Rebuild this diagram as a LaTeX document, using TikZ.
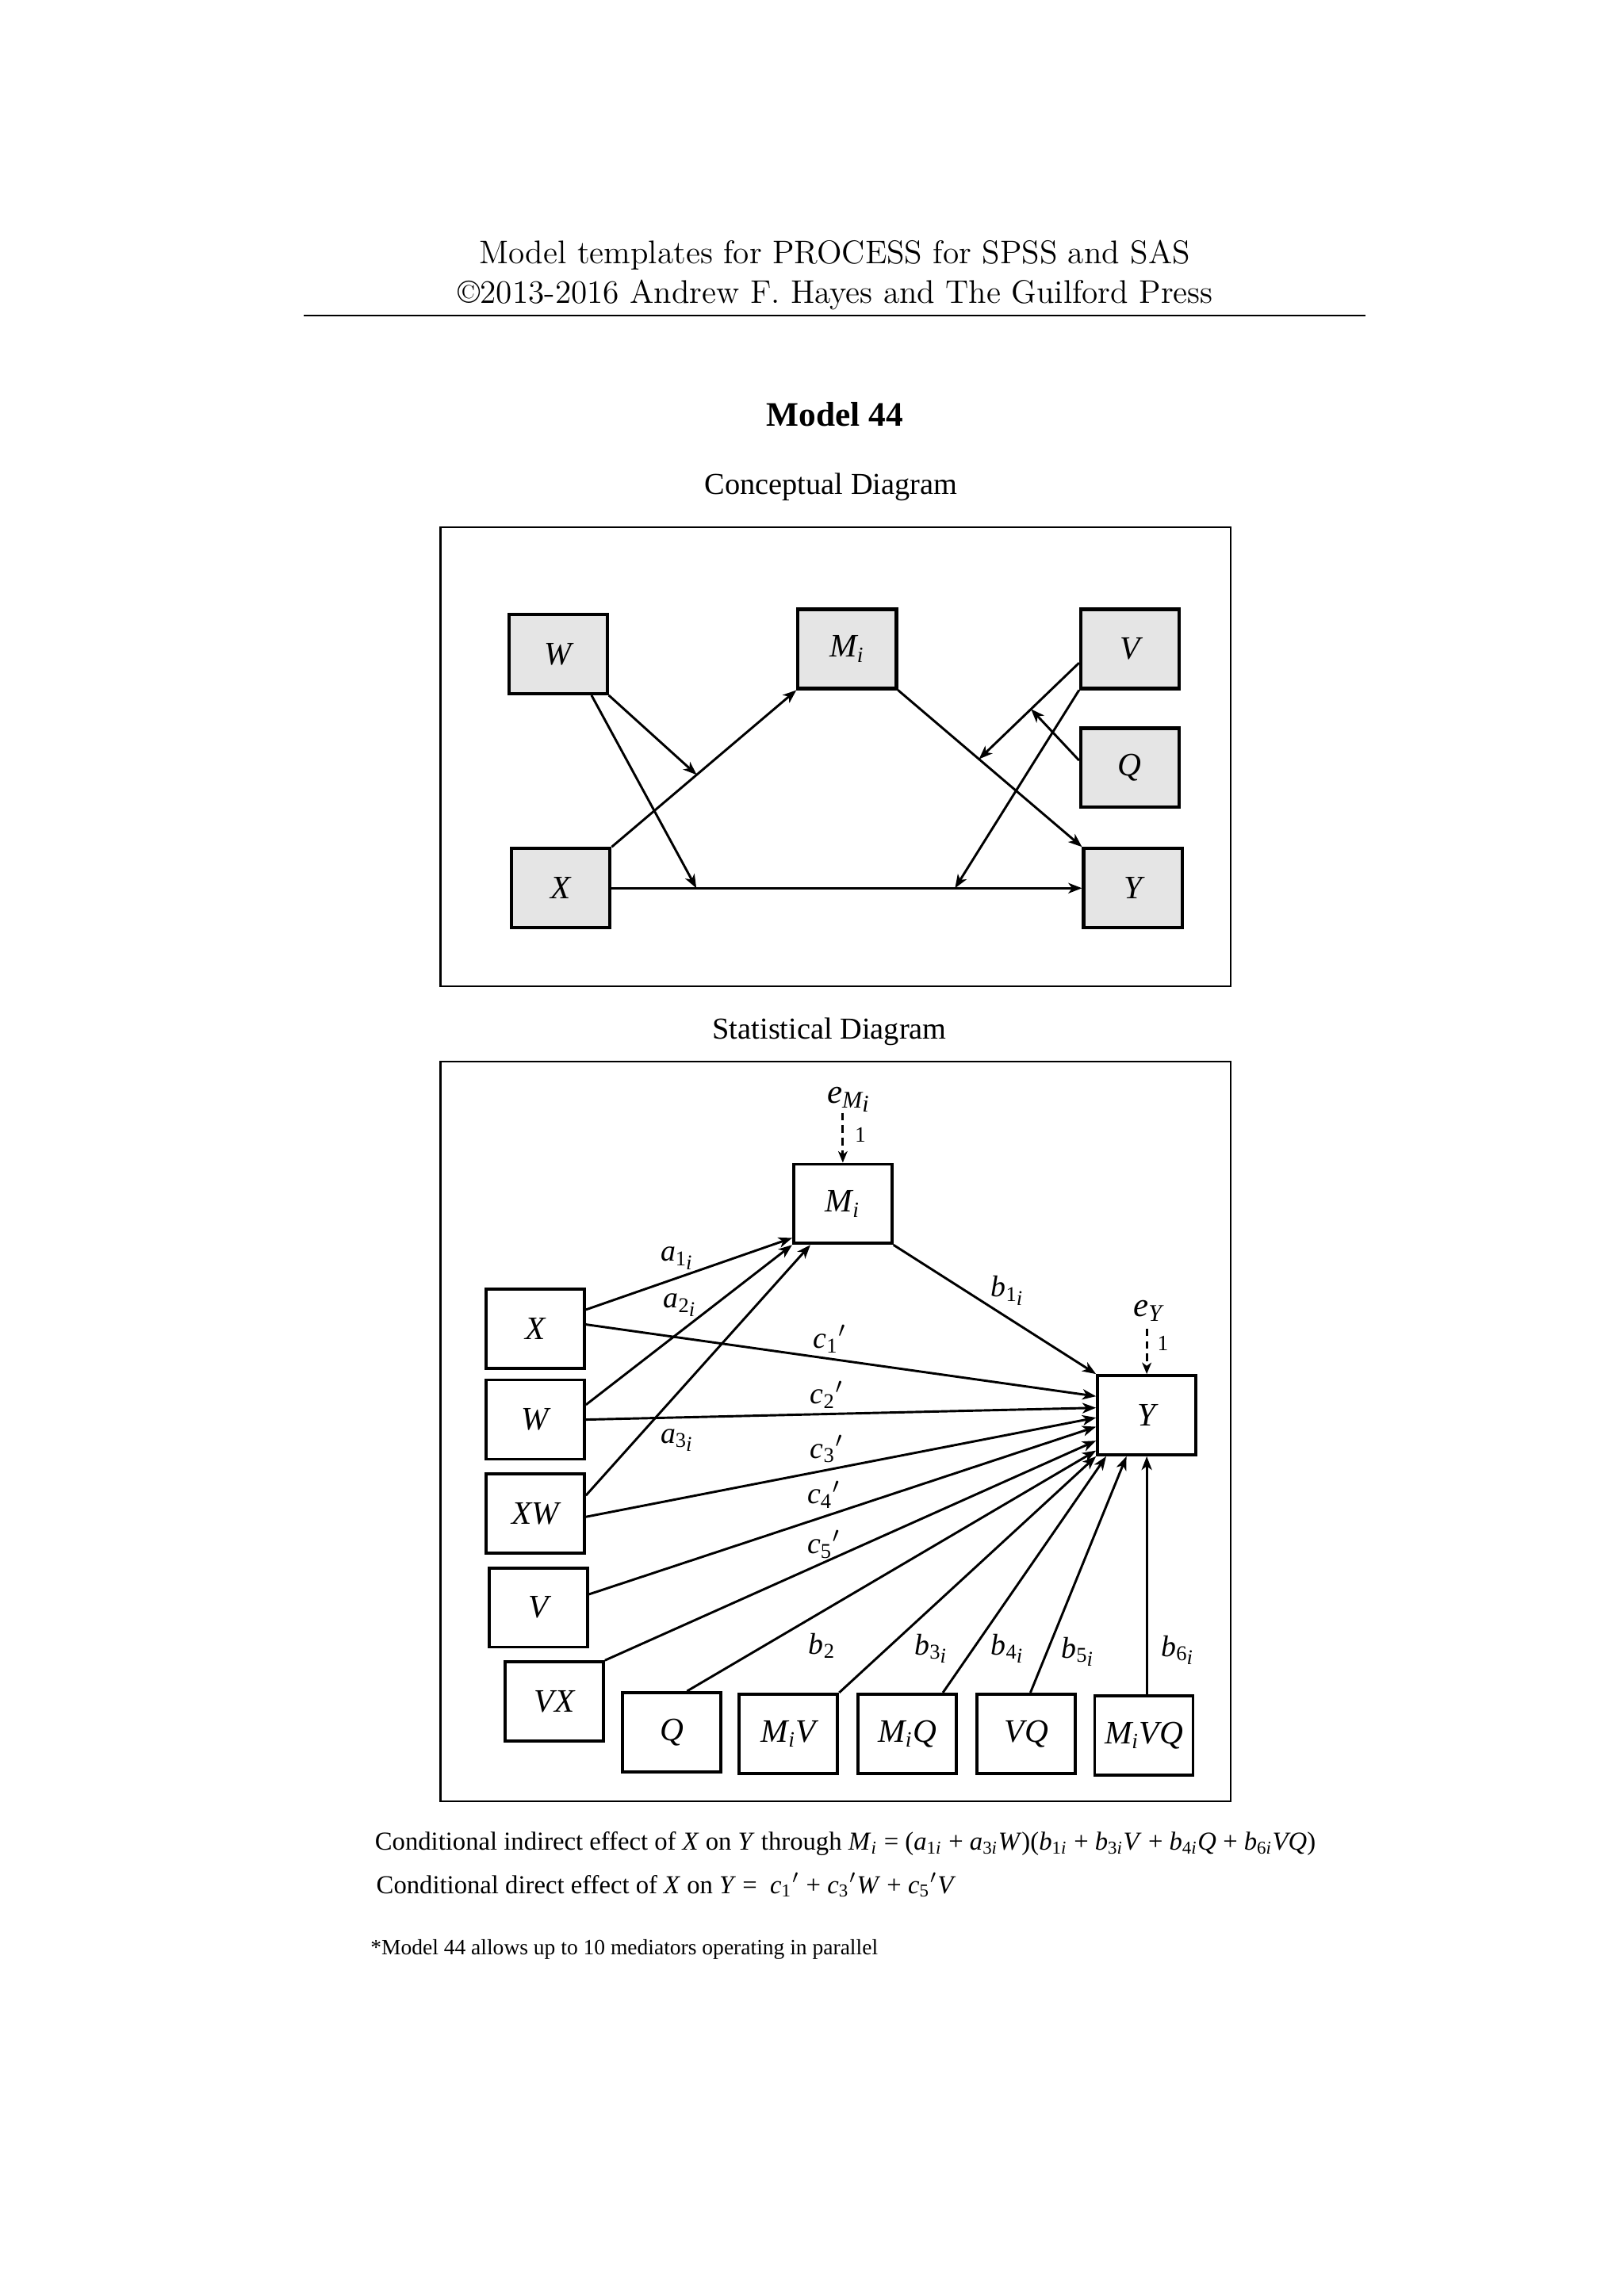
\documentclass[tikz,border=0pt]{standalone}
\usepackage{amsmath}
\usepackage{fontspec}
\newfontfamily\tnr{Liberation Serif}
\usetikzlibrary{arrows.meta,calc}
\newcommand{\V}[1]{\textit{#1}}
\newcommand{\sbs}[1]{\textsubscript{#1}}
\newcommand{\lowi}{\raisebox{-0.4ex}{\itshape i}}
\begin{document}
\begin{tikzpicture}[x=0.53823pt,y=-0.53823pt,
  arr/.style={-{Stealth[length=5pt,width=3.8pt,inset=1.4pt]},line width=0.85pt},
  darr/.style={-{Stealth[length=4.2pt,width=3.4pt,inset=1.2pt]},line width=0.8pt,dash pattern=on 2.8pt off 1.8pt},
  cbox/.style={draw,line width=1.2pt,fill=black!10,minimum width=36.06pt,minimum height=29.06pt,inner sep=0pt,font=\tnr\itshape\fontsize{12}{14}\selectfont},
  sbox/.style={draw,line width=1.1pt,fill=white,minimum width=36.06pt,minimum height=29.06pt,inner sep=0pt,font=\tnr\itshape\fontsize{12}{14}\selectfont},
  lab/.style={inner sep=0pt,font=\tnr\itshape\fontsize{11}{13}\selectfont},
  frame/.style={draw,line width=0.6pt}]
\useasboundingbox (0,0) rectangle (1106,1564);
\fill[white] (0,0) rectangle (1106,1564);
% header
\node[font=\fontsize{12}{14}\selectfont] (h1) at (568.5,174) {Model templates for PROCESS for SPSS and SAS};
\node[font=\fontsize{12}{14}\selectfont] (h2) at (569,201) {\textcopyright2013-2016 Andrew F. Hayes and The Guilford Press};
\coordinate (rl) at (207,215);
\coordinate (rr) at (930,215);
\draw[line width=0.5pt] (rl) -- (rr);
\node[font=\tnr\bfseries\fontsize{12.6}{15}\selectfont] (title) at (568.5,282) {Model 44};
\node[font=\tnr\fontsize{11.15}{13}\selectfont] (ct) at (566,332) {Conceptual Diagram};
\node[font=\tnr\fontsize{11.15}{13}\selectfont] (st) at (565,703) {Statistical Diagram};
% conceptual frame
\node[frame,minimum width=289.57pt,minimum height=168.47pt,inner sep=0pt] (cframe) at (569,515.5) {};
\node[cbox] (cW) at (380,445.5) {W};
\node[cbox] (cMi) at (577,442) {M\sbs{i}};
\node[cbox] (cV) at (769.5,442) {V};
\node[cbox] (cQ) at (769.5,523) {Q};
\node[cbox] (cX) at (382,605) {X};
\node[cbox] (cY) at (771.5,605) {Y};
\draw[arr] (cX.north east) -- (cMi.south west);
\draw[arr] (cX.east) -- (cY.west);
\draw[arr] (cMi.south east) -- (cY.north west);
\coordinate (pXM) at ($(cX.north east)!0.46!(cMi.south west)$);
\coordinate (pXYw) at ($(cX.east)!0.18!(cY.west)$);
\coordinate (pXYv) at ($(cX.east)!0.73!(cY.west)$);
\coordinate (pMY) at ($(cMi.south east)!0.44!(cY.north west)$);
\coordinate (wS) at ($(cW.south west)!0.83!(cW.south east)$);
\coordinate (vW) at ($(cV.north west)!0.67!(cV.south west)$);
\coordinate (qW) at ($(cQ.north west)!0.41!(cQ.south west)$);
\coordinate (pVM) at ($(vW)!0.48!(pMY)$);
\draw[arr] (cW.south east) -- (pXM);
\draw[arr] (wS) -- (pXYw);
\draw[arr] (vW) -- (pMY);
\draw[arr] (qW) -- (pVM);
\draw[arr] (cV.south west) -- (pXYv);
% statistical frame
\node[frame,minimum width=289.57pt,minimum height=271.27pt,inner sep=0pt] (sframe) at (569,975) {};
\node[sbox] (sMi) at (574,820) {M\sbs{i}};
\node[sbox] (sX) at (364.5,905) {X};
\node[sbox] (sW) at (364.5,967) {W};
\node[sbox] (sXW) at (364.5,1031) {XW};
\node[sbox] (sV) at (366.5,1095) {V};
\node[sbox] (sVX) at (377.5,1159) {VX};
\node[sbox] (sQ) at (457.5,1180) {Q};
\node[sbox] (sMiV) at (537,1181) {M\sbs{i}V};
\node[sbox] (sMiQ) at (618,1181) {M\sbs{i}Q};
\node[sbox] (sVQ) at (699,1181) {VQ};
\node[sbox] (sMiVQ) at (779,1182) {M\sbs{i}VQ};
\node[sbox] (sY) at (781,964) {Y};
% error terms
\node[lab,font=\tnr\itshape\fontsize{12.5}{14}\selectfont] (eM) at (578,749) {e\sbs{M\lowi}};
\coordinate (eMs) at ($(sMi.north)+(0,-34)$);
\draw[darr] (eMs) -- (sMi.north);
\node[lab,font=\tnr\fontsize{8}{9}\selectfont] (oneM) at (586,773) {1};
\node[lab,font=\tnr\itshape\fontsize{12.5}{14}\selectfont] (eYl) at (782,893) {e\sbs{Y}};
\coordinate (eYs) at ($(sY.north)+(0,-31)$);
\draw[darr] (eYs) -- (sY.north);
\node[lab,font=\tnr\fontsize{8}{9}\selectfont] (oneY) at (792,915) {1};
% paths to M
\draw[arr] ($(sX.north east)!0.27!(sX.south east)$) -- ($(sMi.north west)!0.915!(sMi.south west)$);
\draw[arr] ($(sW.north east)!0.32!(sW.south east)$) -- (sMi.south west);
\draw[arr] ($(sXW.north east)!0.28!(sXW.south east)$) -- ($(sMi.south west)!0.18!(sMi.south east)$);
% paths to Y
\draw[arr] (sMi.south east) -- (sY.north west);
\draw[arr] ($(sX.north east)!0.45!(sX.south east)$) -- ($(sY.north west)!0.27!(sY.south west)$);
\draw[arr] (sW.east) -- ($(sY.north west)!0.41!(sY.south west)$);
\draw[arr] ($(sXW.north east)!0.54!(sXW.south east)$) -- ($(sY.north west)!0.53!(sY.south west)$);
\draw[arr] ($(sV.north east)!0.34!(sV.south east)$) -- ($(sY.north west)!0.64!(sY.south west)$);
\draw[arr] (sVX.north east) -- ($(sY.north west)!0.81!(sY.south west)$);
\draw[arr] ($(sQ.north west)!0.65!(sQ.north east)$) -- ($(sY.north west)!0.93!(sY.south west)$);
\draw[arr] (sMiV.north east) -- (sY.south west);
\draw[arr] ($(sMiQ.north west)!0.85!(sMiQ.north east)$) -- ($(sY.south west)!0.10!(sY.south east)$);
\draw[arr] ($(sVQ.north west)!0.54!(sVQ.north east)$) -- ($(sY.south west)!0.30!(sY.south east)$);
\draw[arr] (sMiVQ.north -| sY.south) -- (sY.south);
% labels
\node[lab] (la1) at (461,857) {a\sbs{\textup{1}\lowi}};
\node[lab] (la2) at (463,889) {a\sbs{\textup{2}\lowi}};
\node[lab] (la3) at (461,981) {a\sbs{\textup{3}\lowi}};
\node[lab] (lb1) at (686,879) {b\sbs{\textup{1}\lowi}};
\node[lab] (lc1) at (565,912) {c\sbs{\textup{1}}$'$};
\node[lab] (lc2) at (563,950) {c\sbs{\textup{2}}$'$};
\node[lab] (lc3) at (563,987) {c\sbs{\textup{3}}$'$};
\node[lab] (lc4) at (561,1018) {c\sbs{\textup{4}}$'$};
\node[lab] (lc5) at (561,1052) {c\sbs{\textup{5}}$'$};
\node[lab] (lb2) at (560,1121) {b\sbs{\textup{2}}};
\node[lab] (lb3) at (634,1123) {b\sbs{\textup{3}\lowi}};
\node[lab] (lb4) at (686,1123) {b\sbs{\textup{4}\lowi}};
\node[lab] (lb5) at (734,1125) {b\sbs{\textup{5}\lowi}};
\node[lab] (lb6) at (802,1124) {b\sbs{\textup{6}\lowi}};
% bottom text
\node[anchor=west,inner sep=0pt,font=\tnr\fontsize{9.5}{11}\selectfont] (f1) at (255,1256) {Conditional indirect effect of \V{X} on \V{Y} through \V{M}\sbs{\V{i}} = (\V{a}\sbs{1\V{i}} + \V{a}\sbs{3\V{i}}\V{W})(\V{b}\sbs{1\V{i}} + \V{b}\sbs{3\V{i}}\V{V} + \V{b}\sbs{4\V{i}}\V{Q} + \V{b}\sbs{6\V{i}}\V{VQ})};
\node[anchor=west,inner sep=0pt,font=\tnr\fontsize{9.5}{11}\selectfont] (f2) at (256,1284) {Conditional direct effect of \V{X} on \V{Y} =\ \ \V{c}\sbs{1}$'$ + \V{c}\sbs{3}$'$\V{W} + \V{c}\sbs{5}$'$\V{V}};
\node[anchor=west,inner sep=0pt,font=\tnr\fontsize{8}{10}\selectfont] (fn) at (252,1328) {*Model 44 allows up to 10 mediators operating in parallel};
\end{tikzpicture}
\end{document}
